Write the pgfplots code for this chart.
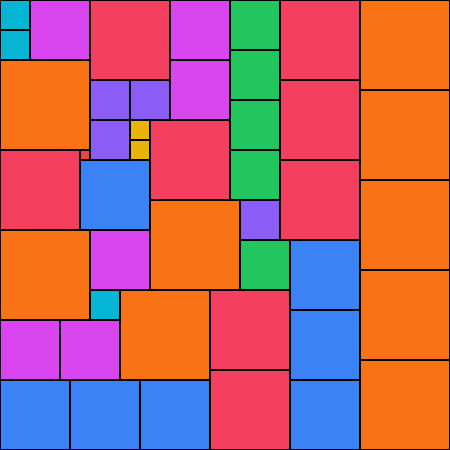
\documentclass[border=0pt]{standalone}
\usepackage{pgfplots}
\pgfplotsset{compat=1.18}
\definecolor{cCyan}{HTML}{06B6D4}
\definecolor{cMag}{HTML}{D946EF}
\definecolor{cRed}{HTML}{F43F5E}
\definecolor{cRed2}{HTML}{EF4444}
\definecolor{cOrg}{HTML}{F97316}
\definecolor{cPur}{HTML}{8B5CF6}
\definecolor{cYel}{HTML}{EAB308}
\definecolor{cGrn}{HTML}{22C55E}
\definecolor{cBlu}{HTML}{3B82F6}
\newcommand{\R}[5]{\addplot[fill=#5,draw=black,line width=0.7pt,line join=miter] coordinates {(#1,#2) (#3,#2) (#3,#4) (#1,#4) (#1,#2)};}
\begin{document}
\begin{tikzpicture}
\begin{axis}[
  scale only axis, width=10cm, height=10cm,
  xmin=0, xmax=450, ymin=0, ymax=450, y dir=reverse,
  axis lines=none, clip=true,
]
\R{0}{0}{30}{30}{cCyan}
\R{0}{30}{30}{60}{cCyan}
\R{30}{0}{90}{60}{cMag}
\R{90}{0}{170}{80}{cRed}
\R{170}{0}{230}{60}{cMag}
\R{230}{0}{280}{50}{cGrn}
\R{230}{50}{280}{100}{cGrn}
\R{230}{100}{280}{150}{cGrn}
\R{230}{150}{280}{200}{cGrn}
\R{280}{0}{360}{80}{cRed}
\R{280}{80}{360}{160}{cRed}
\R{280}{160}{360}{240}{cRed}
\R{360}{0}{450}{90}{cOrg}
\R{360}{90}{450}{180}{cOrg}
\R{360}{180}{450}{270}{cOrg}
\R{360}{270}{450}{360}{cOrg}
\R{360}{360}{450}{450}{cOrg}
\R{0}{60}{90}{150}{cOrg}
\R{90}{80}{130}{120}{cPur}
\R{130}{80}{170}{120}{cPur}
\R{90}{120}{130}{160}{cPur}
\R{130}{120}{150}{140}{cYel}
\R{130}{140}{150}{160}{cYel}
\R{170}{60}{230}{120}{cMag}
\R{150}{120}{230}{200}{cRed}
\R{0}{150}{80}{230}{cRed}
\R{80}{150}{90}{160}{cRed2}
\R{80}{160}{150}{230}{cBlu}
\R{150}{200}{240}{290}{cOrg}
\R{240}{200}{280}{240}{cPur}
\R{240}{240}{290}{290}{cGrn}
\R{290}{240}{360}{310}{cBlu}
\R{290}{310}{360}{380}{cBlu}
\R{290}{380}{360}{450}{cBlu}
\R{0}{230}{90}{320}{cOrg}
\R{90}{230}{150}{290}{cMag}
\R{90}{290}{120}{320}{cCyan}
\R{120}{290}{210}{380}{cOrg}
\R{210}{290}{290}{370}{cRed}
\R{210}{370}{290}{450}{cRed}
\R{0}{320}{60}{380}{cMag}
\R{60}{320}{120}{380}{cMag}
\R{0}{380}{70}{450}{cBlu}
\R{70}{380}{140}{450}{cBlu}
\R{140}{380}{210}{450}{cBlu}
\end{axis}
\end{tikzpicture}
\end{document}
